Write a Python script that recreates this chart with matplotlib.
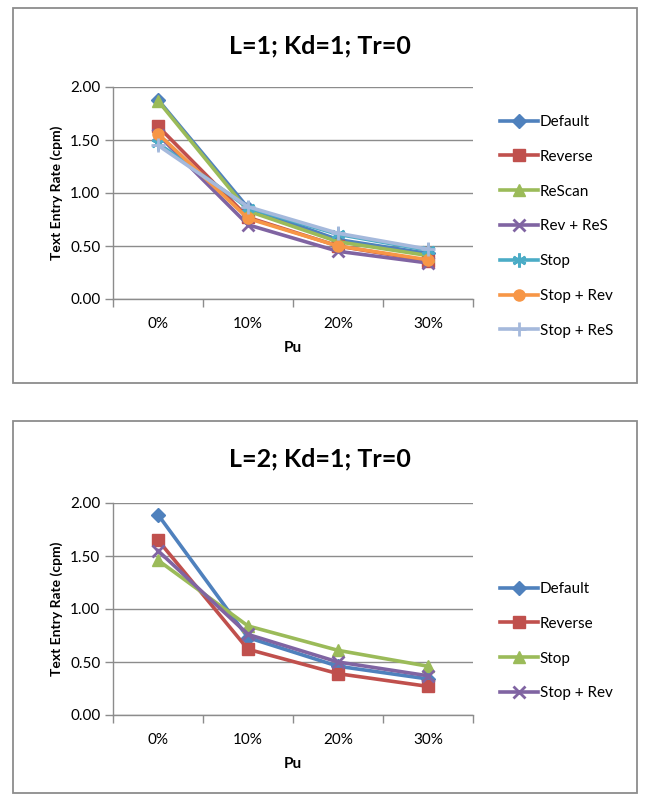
import matplotlib
matplotlib.use('Agg')
import matplotlib.pyplot as plt
from matplotlib.patches import Rectangle

plt.rcParams['font.family'] = ['Lato', 'DejaVu Sans']

# 数据
categories = ['0%', '10%', '20%', '30%']

top_title = 'L=1; Kd=1; Tr=0'
top_labels = ['Default', 'Reverse', 'ReScan', 'Rev + ReS', 'Stop', 'Stop + Rev', 'Stop + ReS']
top_default = [1.88, 0.86, 0.56, 0.43]
top_reverse = [1.63, 0.77, 0.50, 0.36]
top_rescan = [1.87, 0.83, 0.54, 0.41]
top_rev_res = [1.55, 0.70, 0.45, 0.34]
top_stop = [1.47, 0.86, 0.61, 0.46]
top_stop_rev = [1.56, 0.76, 0.50, 0.37]
top_stop_res = [1.45, 0.87, 0.62, 0.47]

bot_title = 'L=2; Kd=1; Tr=0'
bot_labels = ['Default', 'Reverse', 'Stop', 'Stop + Rev']
bot_default = [1.89, 0.73, 0.46, 0.34]
bot_reverse = [1.65, 0.62, 0.39, 0.27]
bot_stop = [1.46, 0.84, 0.61, 0.46]
bot_stop_rev = [1.55, 0.76, 0.50, 0.37]

y_ticks = [0.0, 0.5, 1.0, 1.5, 2.0]

# Excel 风格的颜色和标记
styles = {
    'Default': ('#4F81BD', 'D', 7),
    'Reverse': ('#C0504D', 's', 8),
    'ReScan': ('#9BBB59', '^', 8),
    'Rev + ReS': ('#8064A2', 'x', 8),
    'Stop': ('#4BACC6', (6, 2, 0), 10),
    'Stop + Rev': ('#F79646', 'o', 8),
    'Stop + ReS': ('#A5B9DC', '+', 10),
}
bot_styles = dict(styles)
bot_styles['Stop'] = ('#9BBB59', '^', 8)
bot_styles['Stop + Rev'] = ('#8064A2', 'x', 8)

W, H = 646, 795
fig = plt.figure(figsize=(W / 100, H / 100), dpi=100)
fig.patch.set_facecolor('white')


def px_rect(x0, y0, x1, y1):
    """像素坐标 -> figure 比例坐标 [left, bottom, width, height]"""
    return [x0 / W, 1 - y1 / H, (x1 - x0) / W, (y1 - y0) / H]


def draw_chart(box, axes_px, title, labels, series, style_map, legend_top):
    # 外框
    l, b, w, h = px_rect(*box)
    fig.patches.append(Rectangle((l, b), w, h, transform=fig.transFigure,
                                 fill=False, edgecolor='#8c8c8c', linewidth=1.3))
    ax = fig.add_axes(px_rect(*axes_px))
    x = list(range(len(categories)))
    for lab, vals in zip(labels, series):
        color, marker, ms = style_map[lab]
        ax.plot(x, vals, color=color, marker=marker, markersize=ms, linewidth=2.6,
                markeredgewidth=2 if marker in ('x', '+', (6, 2, 0)) else 1,
                markeredgecolor=color, label=lab, zorder=3)

    ax.set_xlim(-0.5, len(categories) - 0.5)
    ax.set_ylim(0, 2.0)
    ax.set_yticks(y_ticks)
    ax.set_yticklabels([f'{v:.2f}' for v in y_ticks], fontsize=11)
    ax.yaxis.grid(True, color='#8c8c8c', linewidth=1.0)
    ax.set_axisbelow(True)
    ax.set_xticks([i - 0.5 for i in range(len(categories) + 1)])
    ax.set_xticklabels([])
    ax.set_xticks(x, minor=True)
    ax.set_xticklabels(categories, minor=True, fontsize=11)
    ax.tick_params(axis='x', which='minor', length=0, pad=13)
    ax.tick_params(axis='both', which='major', length=6, width=1, color='#8c8c8c', direction='out')
    ax.tick_params(axis='y', pad=3)
    for s in ['top', 'right']:
        ax.spines[s].set_visible(False)
    for s in ['left', 'bottom']:
        ax.spines[s].set_color('#8c8c8c')
        ax.spines[s].set_linewidth(1.0)
    ax.set_xlabel('Pu', fontsize=11, fontweight='bold', labelpad=7)
    ax.set_ylabel('Text Entry Rate (cpm)', fontsize=10, fontweight='bold', labelpad=5)

    # 标题
    fig.text(320 / W, 1 - (box[1] + 38) / H, title, fontsize=18, fontweight='bold',
             ha='center', va='center')

    fig.legend(handles=ax.get_lines(), loc='upper left',
               bbox_to_anchor=(500 / W, 1 - legend_top / H), frameon=False,
               fontsize=11, handlelength=2.5, handletextpad=0.1,
               labelspacing=1.36, borderpad=0, borderaxespad=0)
    return ax


draw_chart((13, 8, 637, 383), (113, 87, 473, 299), top_title, top_labels,
           [top_default, top_reverse, top_rescan, top_rev_res, top_stop, top_stop_rev, top_stop_res],
           styles, 115)
draw_chart((13, 421, 637, 793), (113, 503, 473, 715), bot_title, bot_labels,
           [bot_default, bot_reverse, bot_stop, bot_stop_rev],
           bot_styles, 582)

fig.savefig('out.png', dpi=100, facecolor='white')
